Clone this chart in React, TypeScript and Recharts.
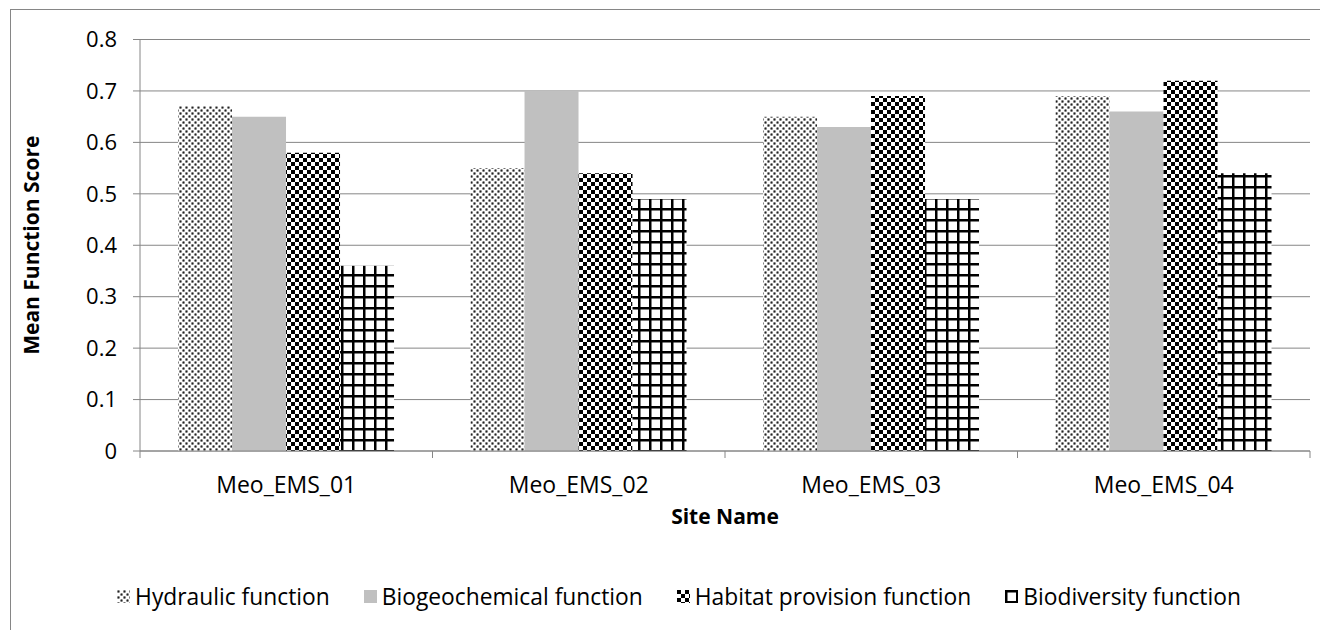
import React from 'react'
import { BarChart, Bar, XAxis, YAxis, CartesianGrid, Legend, Label } from 'recharts'

const sites = ['Meo_EMS_01', 'Meo_EMS_02', 'Meo_EMS_03', 'Meo_EMS_04']
const hydraulic = [0.67, 0.55, 0.65, 0.69]
const biogeochemical = [0.65, 0.7, 0.63, 0.66]
const habitat = [0.58, 0.54, 0.69, 0.72]
const biodiversity = [0.36, 0.49, 0.49, 0.54]
const yTicks = [0, 0.1, 0.2, 0.3, 0.4, 0.5, 0.6, 0.7, 0.8]

const seriesInfo = [
  { key: 'hydraulic', name: 'Hydraulic function', fill: 'url(#pat-dots)' },
  { key: 'biogeochemical', name: 'Biogeochemical function', fill: '#c0c0c0' },
  { key: 'habitat', name: 'Habitat provision function', fill: 'url(#pat-check)' },
  { key: 'biodiversity', name: 'Biodiversity function', fill: 'url(#pat-grid)' },
]

const data = sites.map((site, i) => ({
  site,
  hydraulic: hydraulic[i],
  biogeochemical: biogeochemical[i],
  habitat: habitat[i],
  biodiversity: biodiversity[i],
}))

const FONT = '"Open Sans", "Noto Sans", sans-serif'
const W = 1310
const H = 620
const M = { top: 29.5, right: 11, bottom: 149, left: 9 }
const Y_W = 120
const CAT_W = (W - M.left - M.right - Y_W) / sites.length

const SiteTick = (props: any) => {
  const { x, y, payload, index } = props
  const axisY = y - 8
  return (
    <g>
      <line x1={x - CAT_W / 2} x2={x - CAT_W / 2} y1={axisY} y2={axisY + 7} stroke="#868686" />
      {index === sites.length - 1 && (
        <line x1={x + CAT_W / 2} x2={x + CAT_W / 2} y1={axisY} y2={axisY + 7} stroke="#868686" />
      )}
      <text x={x} y={axisY + 42} textAnchor="middle" fill="#000" fontSize={23} fontFamily={FONT}>
        {payload.value}
      </text>
    </g>
  )
}

const LegendBox = () => (
  <div
    style={{
      display: 'flex',
      justifyContent: 'center',
      gap: 34,
      paddingLeft: 26,
      fontFamily: FONT,
      fontSize: 22.8,
      color: '#000',
    }}
  >
    {seriesInfo.map((s) => (
      <div key={s.key} style={{ display: 'flex', alignItems: 'center', gap: 5 }}>
        <svg width={13} height={13}>
          <rect width={13} height={13} fill={s.fill} />
        </svg>
        <span>{s.name}</span>
      </div>
    ))}
  </div>
)

export default function App() {
  return (
    <div
      style={{
        marginLeft: 2,
        marginTop: 1,
        width: W,
        height: H,
        borderLeft: '1px solid #868686',
        borderTop: '1px solid #868686',
        position: 'relative',
      }}
    >
      <svg width={0} height={0} style={{ position: 'absolute' }}>
        <defs>
          <pattern id="pat-dots" width={6} height={6} patternUnits="userSpaceOnUse">
            <rect width={6} height={6} fill="#fff" />
            <circle cx={1.5} cy={1.5} r={1.6} fill="#aaa" />
            <circle cx={1.5} cy={1.5} r={0.9} fill="#222" />
            <circle cx={4.5} cy={4.5} r={1.6} fill="#aaa" />
            <circle cx={4.5} cy={4.5} r={0.9} fill="#222" />
          </pattern>
          <pattern id="pat-check" width={8} height={8} patternUnits="userSpaceOnUse">
            <rect width={8} height={8} fill="#fff" />
            <rect x={0} y={0} width={4} height={4} fill="#000" />
            <rect x={4} y={4} width={4} height={4} fill="#000" />
          </pattern>
          <pattern id="pat-grid" width={11} height={11} patternUnits="userSpaceOnUse">
            <rect width={11} height={11} fill="#fff" />
            <rect x={0} y={0} width={2.5} height={11} fill="#000" />
            <rect x={0} y={0} width={11} height={2.5} fill="#000" />
          </pattern>
        </defs>
      </svg>
      <BarChart width={W} height={H} data={data} margin={M} barCategoryGap="13%" barGap={0}>
        <CartesianGrid vertical={false} stroke="#868686" />
        <XAxis
          dataKey="site"
          stroke="#868686"
          tickLine={false}
          tickSize={7}
          tickMargin={1}
          height={30}
          tick={<SiteTick />}
          interval={0}
        >
          <Label
            value="Site Name"
            position="bottom"
            offset={28}
            style={{ fontFamily: FONT, fontSize: 21, fontWeight: 'bold', fill: '#000' }}
          />
        </XAxis>
        <YAxis
          width={Y_W}
          domain={[0, 0.8]}
          ticks={yTicks}
          stroke="#868686"
          tickSize={7}
          tickMargin={16}
          tick={{ fill: '#000', fontSize: 22, fontFamily: FONT }}
        >
          <Label
            value="Mean Function Score"
            angle={-90}
            position="center"
            dx={-48}
            style={{ fontFamily: FONT, fontSize: 21, fontWeight: 'bold', fill: '#000', textAnchor: 'middle' }}
          />
        </YAxis>
        <Legend
          layout="horizontal"
          verticalAlign="middle"
          align="center"
          content={<LegendBox />}
          wrapperStyle={{ top: 571, left: 0, width: W }}
        />
        {seriesInfo.map((s) => (
          <Bar key={s.key} dataKey={s.key} name={s.name} fill={s.fill} isAnimationActive={false} />
        ))}
      </BarChart>
    </div>
  )
}
